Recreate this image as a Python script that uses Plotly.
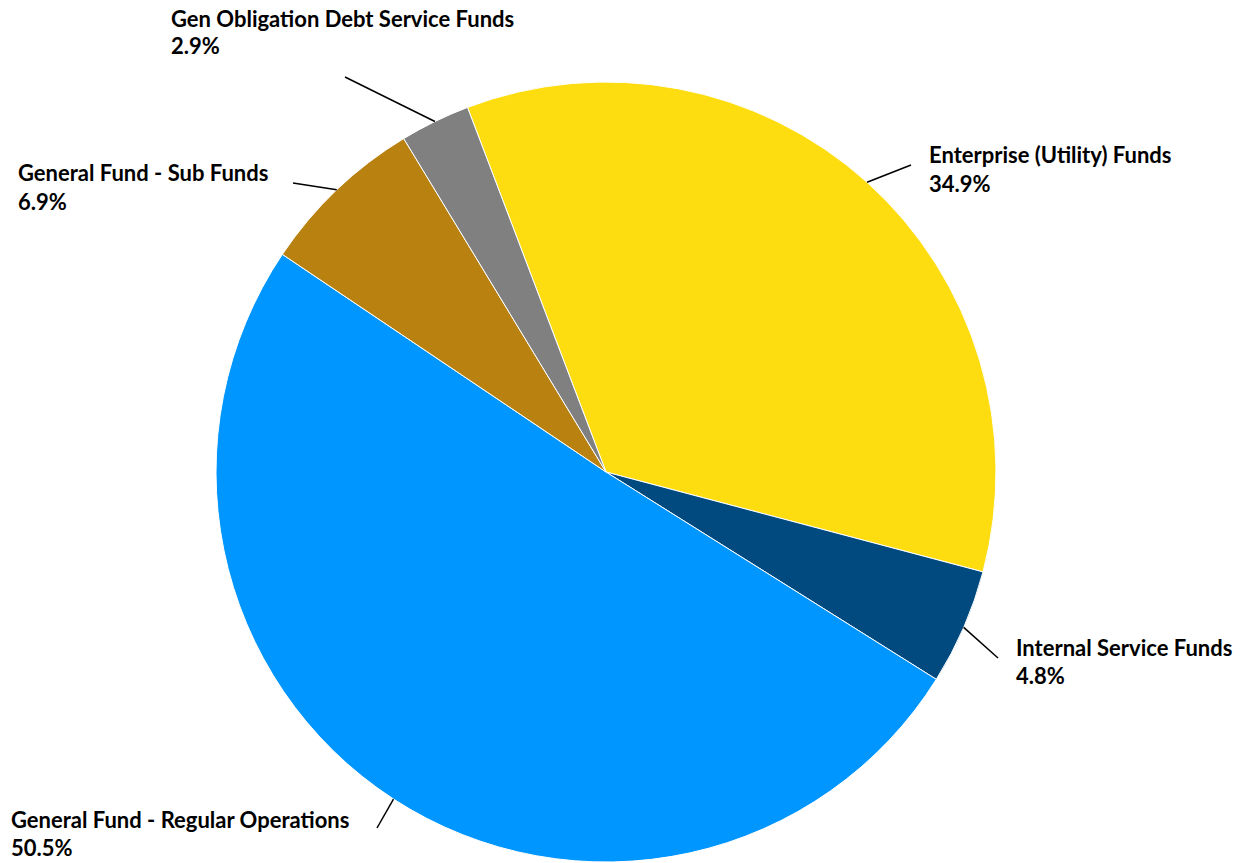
import math
import plotly.graph_objects as go

# Fund shares (percent of total), clockwise from the top-left edge
categories = [
    "Enterprise (Utility) Funds",
    "Internal Service Funds",
    "General Fund - Regular Operations",
    "General Fund - Sub Funds",
    "Gen Obligation Debt Service Funds",
]
shares = [34.9, 4.8, 50.5, 6.9, 2.9]
colors = ["#FEDD10", "#004A80", "#0096FF", "#B98110", "#808080"]

W, H = 1251, 863
CX, CY, R = 606, 472, 390          # pie centre / radius in pixels
ROTATION = -20.8                    # start angle of first slice (deg from 12 o'clock)

# label layout: (text left x, first line centre y, leader end x, leader end y)
label_layout = [
    (929, 155, 911, 165),
    (1016, 647, 998, 658),
    (11, 819, 377, 828),
    (18, 173, 293, 183),
    (171, 18, 345, 77),
]
LINE_GAP = 28
FONT = dict(family="Lato, 'Open Sans', sans-serif", size=22, color="#000000")


def px(x):
    return x / W


def py(y):
    return 1 - y / H


fig = go.Figure(
    go.Pie(
        labels=categories,
        values=shares,
        sort=False,
        direction="clockwise",
        rotation=ROTATION,
        marker=dict(colors=colors, line=dict(color="#FFFFFF", width=1)),
        textinfo="none",
        hoverinfo="skip",
        showlegend=False,
        domain=dict(x=[px(CX - R), px(CX + R)], y=[py(CY + R), py(CY - R)]),
    )
)

shapes = []
annotations = []
total = sum(shares)
angle = ROTATION
for name, val, (tx, ty, ex, ey) in zip(categories, shares, label_layout):
    span = 360 * val / total
    mid = math.radians(angle + span / 2)
    angle += span
    sx = CX + R * math.sin(mid)
    sy = CY - R * math.cos(mid)
    shapes.append(dict(type="line", xref="paper", yref="paper",
                       x0=px(sx), y0=py(sy), x1=px(ex), y1=py(ey),
                       line=dict(color="#000000", width=1.5)))
    for i, txt in enumerate([name, f"{val:.1f}%"]):
        annotations.append(dict(
            xref="paper", yref="paper", x=px(tx), y=py(ty + i * LINE_GAP),
            xanchor="left", yanchor="middle", showarrow=False,
            text=f"<b>{txt}</b>", font=FONT, borderpad=0, borderwidth=0,
        ))

fig.update_layout(
    width=W, height=H,
    margin=dict(l=0, r=0, t=0, b=0),
    paper_bgcolor="#FFFFFF", plot_bgcolor="#FFFFFF",
    shapes=shapes, annotations=annotations,
)

fig.write_html("out.html")
